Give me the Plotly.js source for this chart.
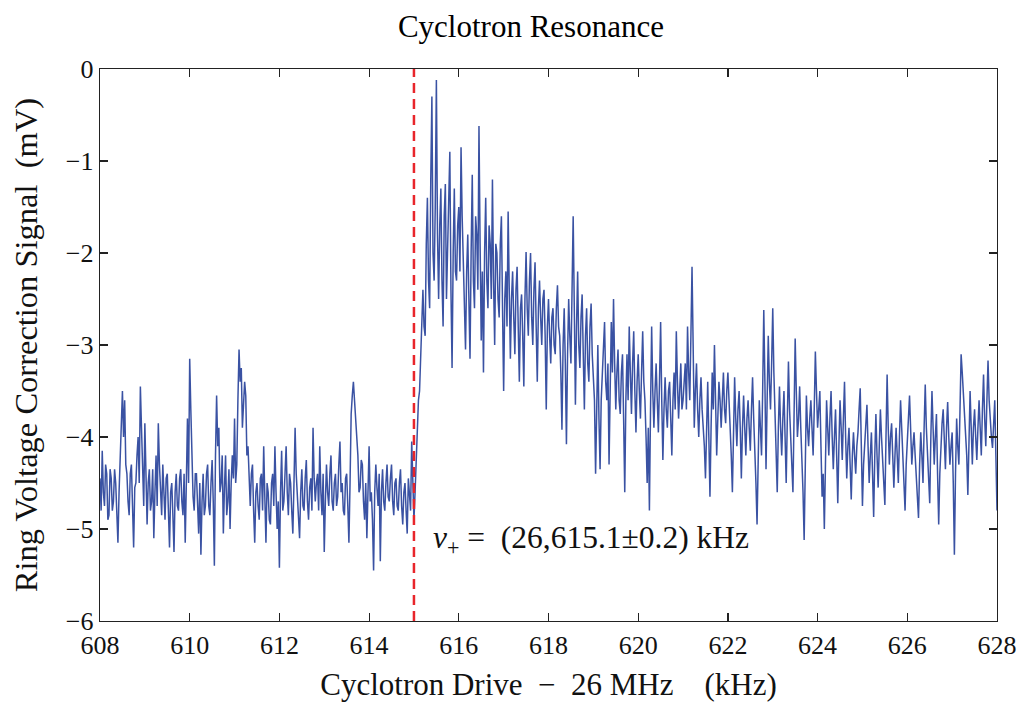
<!DOCTYPE html>
<html>
<head>
<meta charset="utf-8">
<script src="https://cdn.plot.ly/plotly-3.0.1.min.js"></script>
<style>html,body{margin:0;padding:0;background:#fff;}#chart{width:1021px;height:704px;}</style>
</head>
<body>
<div id="chart"></div>
<script>
// Start of each 1 kHz block (kHz) and sample offsets within the block
const blockStartKHz = [608,609,610,611,612,613,614,615,616,617,618,619,620,621,622,623,624,625,626,627];
const sampleOffsetKHz = [0,0.05,0.1,0.15,0.2,0.25,0.3,0.35,0.4,0.45,0.5,0.55,0.6,0.65,0.7,0.75,0.8,0.85,0.9,0.95];
const midOffsetKHz = [0.025,0.075,0.125,0.175,0.225,0.275,0.325,0.375,0.425,0.475,0.525,0.575,0.625,0.675,0.725,0.775,0.825,0.875,0.925,0.975];

// Ring voltage correction signal (mV): samples at the block offsets
const sig608 = [-4.45,-4.15,-4.75,-4.4,-4.85,-4.45,-4.7,-4.5,-5.15,-4.3,-3.5,-3.6,-4.4,-4.85,-4.3,-5.2,-4.5,-4.0,-3.45,-4.3];
const sig609 = [-3.85,-4.95,-4.35,-4.7,-5.1,-4.2,-3.85,-4.6,-4.3,-4.9,-4.4,-5.2,-4.5,-5.25,-4.4,-4.8,-4.35,-4.85,-5.15,-3.8];
const sig610 = [-3.15,-4.3,-4.8,-4.4,-5.05,-5.28,-4.4,-4.75,-4.3,-4.85,-4.25,-5.4,-3.55,-3.9,-4.5,-5.05,-4.2,-4.7,-5.0,-4.2];
const sig611 = [-3.8,-4.3,-3.05,-3.25,-3.7,-3.55,-4.1,-4.75,-4.3,-5.15,-4.5,-4.9,-4.4,-4.1,-5.15,-4.6,-4.95,-4.4,-4.1,-5.0];
const sig612 = [-5.42,-4.15,-4.7,-4.1,-4.85,-4.5,-5.05,-3.9,-4.6,-5.1,-4.35,-4.8,-4.25,-4.9,-4.45,-3.9,-4.7,-4.4,-4.1,-4.85];
const sig613 = [-5.25,-4.3,-4.75,-4.2,-4.8,-4.4,-4.65,-4.05,-4.5,-4.85,-4.4,-5.15,-3.75,-3.4,-3.8,-4.2,-4.55,-4.3,-4.9,-5.1];
const sig614 = [-4.1,-4.6,-5.45,-4.3,-4.75,-5.35,-4.35,-4.8,-4.3,-4.7,-4.3,-4.85,-4.45,-4.8,-4.35,-4.95,-4.5,-5.05,-4.6,-4.05];
const sig615 = [-4.9,-4.2,-3.6,-3.2,-2.4,-2.9,-1.4,-2.6,-0.3,-2.3,-0.12,-2.5,-1.3,-2.8,-1.25,-2.0,-0.9,-3.25,-1.3,-2.3];
const sig616 = [-1.5,-0.85,-2.0,-3.05,-1.8,-3.15,-1.15,-2.6,-1.8,-0.62,-2.95,-3.3,-1.4,-2.6,-1.9,-1.2,-3.0,-2.0,-2.7,-1.6];
const sig617 = [-3.5,-2.2,-1.55,-3.15,-2.2,-3.1,-2.15,-3.4,-2.45,-3.45,-1.99,-2.9,-2.0,-3.0,-2.1,-3.4,-2.3,-3.0,-2.4,-3.7];
const sig618 = [-2.5,-3.2,-2.6,-3.1,-2.35,-2.9,-3.92,-2.6,-4.08,-2.5,-3.2,-1.6,-3.65,-2.2,-3.25,-2.45,-3.7,-2.6,-3.4,-2.55];
const sig619 = [-3.3,-4.4,-3.0,-4.35,-3.3,-2.75,-3.6,-4.3,-2.75,-2.5,-3.7,-3.05,-3.75,-3.1,-4.6,-3.1,-2.8,-3.75,-2.85,-3.95];
const sig620 = [-3.1,-3.8,-2.85,-3.6,-4.5,-4.8,-2.8,-3.9,-3.2,-3.95,-2.75,-4.25,-3.35,-3.9,-3.4,-4.2,-3.3,-2.85,-3.8,-3.2];
const sig621 = [-3.6,-3.2,-2.8,-3.6,-2.15,-3.9,-3.2,-4.0,-3.35,-3.9,-4.45,-3.4,-4.65,-3.3,-3.0,-4.2,-3.4,-3.9,-3.3,-3.85];
const sig622 = [-3.3,-3.85,-4.6,-3.35,-4.1,-3.5,-4.45,-3.55,-4.2,-3.6,-4.15,-3.35,-4.1,-4.95,-3.6,-4.2,-2.62,-4.35,-2.9,-3.7];
const sig623 = [-2.6,-3.75,-4.6,-3.45,-4.2,-3.5,-4.5,-3.18,-4.1,-4.6,-2.93,-4.0,-3.45,-4.2,-5.12,-3.55,-4.1,-3.6,-4.2,-3.07];
const sig624 = [-3.9,-3.5,-4.65,-5.0,-3.6,-4.2,-3.5,-4.35,-3.7,-4.72,-3.6,-4.25,-3.4,-4.45,-3.9,-4.68,-3.95,-4.4,-3.95,-3.47];
const sig625 = [-4.75,-4.1,-3.65,-4.5,-3.95,-4.87,-3.75,-4.55,-3.7,-4.3,-4.74,-3.32,-4.3,-3.85,-4.55,-3.9,-4.5,-3.6,-4.2,-4.8];
const sig626 = [-3.95,-3.55,-4.3,-3.95,-4.4,-4.88,-3.95,-4.5,-3.43,-4.2,-4.72,-3.5,-4.3,-3.75,-4.95,-4.0,-3.7,-4.35,-3.62,-4.3];
const sig627 = [-3.95,-5.28,-3.8,-4.3,-3.1,-3.5,-3.9,-4.63,-3.5,-4.3,-3.7,-4.25,-3.6,-4.2,-3.32,-4.1,-3.17,-3.9,-4.12,-3.6];

// Ring voltage correction signal (mV): samples at the mid offsets
const mid608 = [-4.8,-4.6,-4.3,-4.9,-4.35,-4.8,-4.35,-4.85,-4.6,-3.9,-4.0,-4.3,-4.7,-4.4,-4.75,-4.55,-4.2,-4.5,-3.9,-4.75];
const mid609 = [-4.4,-4.5,-4.8,-4.35,-4.6,-4.75,-4.3,-4.85,-4.7,-4.45,-4.8,-4.6,-4.85,-4.6,-4.75,-4.45,-4.7,-4.4,-4.5,-4.5];
const mid610 = [-3.7,-4.65,-4.4,-4.8,-4.5,-4.7,-4.85,-4.4,-4.75,-4.5,-4.7,-4.2,-4.1,-4.6,-4.2,-4.55,-4.85,-4.35,-4.5,-4.45];
const mid611 = [-4.5,-3.6,-3.4,-3.9,-3.4,-4.2,-4.5,-4.4,-4.8,-4.6,-4.75,-4.45,-4.8,-4.65,-4.5,-4.9,-4.5,-4.75,-4.6,-4.7];
const mid612 = [-4.6,-4.8,-4.4,-4.6,-4.4,-4.8,-4.5,-4.4,-4.9,-4.6,-4.75,-4.45,-4.7,-4.55,-4.8,-4.45,-4.5,-4.8,-4.6,-4.4];
const mid613 = [-4.7,-4.6,-4.4,-4.7,-4.5,-4.75,-4.3,-4.6,-4.8,-4.45,-4.75,-4.5,-3.55,-3.6,-4.0,-4.6,-4.25,-4.7,-4.5,-4.6];
const mid614 = [-4.7,-4.9,-4.6,-4.55,-4.4,-4.6,-4.7,-4.5,-4.65,-4.45,-4.7,-4.5,-4.75,-4.5,-4.75,-4.6,-4.8,-4.45,-4.8,-4.5];
const mid615 = [-4.6,-3.8,-3.5,-2.7,-2.8,-1.9,-2.3,-1.2,-2.0,-1.5,-1.8,-1.7,-2.3,-1.6,-2.5,-1.5,-2.4,-2.0,-2.2,-1.7];
const mid616 = [-2.2,-1.6,-2.6,-2.2,-2.5,-2.0,-2.3,-1.6,-2.4,-1.9,-2.2,-2.0,-2.3,-1.7,-2.5,-2.3,-1.9,-2.5,-1.9,-2.6];
const mid617 = [-2.5,-2.8,-2.4,-2.5,-2.7,-2.4,-2.8,-2.6,-2.9,-2.5,-2.6,-2.3,-2.7,-2.4,-2.8,-2.6,-2.7,-2.5,-2.9,-2.8];
const mid618 = [-2.9,-2.7,-3.0,-2.6,-2.8,-3.3,-3.0,-3.2,-3.1,-2.9,-2.4,-2.6,-2.8,-3.0,-2.7,-3.1,-2.9,-3.2,-2.8,-3.1];
const mid619 = [-3.6,-3.5,-3.8,-3.6,-3.1,-3.4,-3.2,-3.5,-3.3,-3.2,-3.3,-3.6,-3.3,-3.8,-3.6,-3.6,-3.3,-3.2,-3.5,-3.4];
const mid620 = [-3.5,-3.3,-3.4,-4.0,-3.9,-3.7,-3.5,-3.5,-3.6,-3.4,-3.6,-3.7,-3.7,-3.5,-3.8,-3.6,-3.7,-3.4,-3.5,-3.7];
const mid621 = [-3.4,-3.7,-3.3,-2.9,-3.0,-3.5,-3.7,-3.6,-3.7,-4.1,-3.8,-4.0,-3.9,-3.7,-3.6,-3.8,-3.6,-3.6,-3.7,-3.5];
const mid622 = [-3.6,-4.2,-3.9,-3.8,-3.7,-3.9,-3.9,-3.9,-3.8,-3.9,-3.7,-3.8,-4.5,-4.2,-3.9,-3.5,-3.4,-3.6,-3.4,-3.2];
const mid623 = [-3.3,-4.1,-3.9,-3.9,-3.8,-4.0,-3.8,-3.7,-4.3,-3.8,-3.5,-3.8,-3.9,-4.6,-4.3,-3.9,-3.8,-3.9,-3.7,-3.5];
const mid624 = [-3.7,-4.1,-4.4,-4.3,-3.9,-3.8,-4.0,-4.0,-4.2,-4.1,-3.9,-3.8,-4.0,-4.1,-4.3,-4.2,-4.2,-4.1,-3.7,-4.1];
const mid625 = [-4.3,-3.9,-4.1,-4.2,-4.4,-4.2,-4.2,-4.1,-4.0,-4.5,-4.0,-3.9,-4.0,-4.2,-4.2,-4.2,-4.0,-3.9,-4.5,-4.3];
const mid626 = [-3.8,-4.0,-4.1,-4.2,-4.6,-4.3,-4.2,-3.9,-3.9,-4.5,-4.0,-3.9,-4.0,-4.4,-4.4,-3.85,-4.0,-3.9,-4.0,-4.1];
const mid627 = [-4.5,-4.4,-4.1,-3.7,-3.3,-3.8,-4.2,-4.0,-3.9,-3.9,-4.0,-3.9,-3.9,-3.7,-3.8,-3.6,-3.6,-4.0,-3.8,-4.2];

const finalKHz = 628;
const finalSig = -4.8;

const resonanceKHz = 615.0;
const xTicks = [608,610,612,614,616,618,620,622,624,626,628];
const yTicks = [0,-1,-2,-3,-4,-5,-6];
const annotationText = '<i>v</i><sub>+</sub> =  (26,615.1±0.2) kHz';
const annotationPos = {x: 615.38, y: -5.12};

const blocks = [sig608,sig609,sig610,sig611,sig612,sig613,sig614,sig615,sig616,sig617,sig618,sig619,sig620,sig621,sig622,sig623,sig624,sig625,sig626,sig627];
const midBlocks = [mid608,mid609,mid610,mid611,mid612,mid613,mid614,mid615,mid616,mid617,mid618,mid619,mid620,mid621,mid622,mid623,mid624,mid625,mid626,mid627];
const xs = [], ys = [];
blocks.forEach((blk, b) => {
  blk.forEach((v, i) => {
    xs.push(+(blockStartKHz[b] + sampleOffsetKHz[i]).toFixed(3)); ys.push(v);
    xs.push(+(blockStartKHz[b] + midOffsetKHz[i]).toFixed(3)); ys.push(midBlocks[b][i]);
  });
});
xs.push(finalKHz); ys.push(finalSig);

const serif = 'Liberation Serif, Times New Roman, serif';

const trace = {
  x: xs, y: ys, type: 'scatter', mode: 'lines',
  line: {color: '#3a52a3', width: 1.5},
  hoverinfo: 'x+y'
};

const layout = {
  width: 1021, height: 704,
  margin: {l: 100, r: 24, t: 69, b: 83},
  paper_bgcolor: '#fff', plot_bgcolor: '#fff',
  showlegend: false,
  title: {text: 'Cyclotron Resonance', x: 0.52, xanchor: 'center', y: 0.963, yanchor: 'middle',
          font: {family: serif, size: 31, color: '#000'}},
  xaxis: {
    range: [608, 628], tickvals: xTicks, ticktext: xTicks.map(String),
    ticks: 'inside', ticklen: 8, tickwidth: 1.2, tickcolor: '#222',
    showline: true, linecolor: '#222', linewidth: 1.3, mirror: 'ticks',
    showgrid: false, zeroline: false,
    tickfont: {family: serif, size: 26, color: '#111'},
    title: {text: 'Cyclotron Drive  \u2212  26 MHz    (kHz)', font: {family: serif, size: 31, color: '#111'}, standoff: 14}
  },
  yaxis: {
    range: [-6, 0], tickvals: yTicks,
    ticks: 'inside', ticklen: 8, tickwidth: 1.2, tickcolor: '#222',
    showline: true, linecolor: '#222', linewidth: 1.3, mirror: 'ticks',
    showgrid: false, zeroline: false,
    tickfont: {family: serif, size: 26, color: '#111'},
    title: {text: 'Ring Voltage Correction Signal  (mV)', font: {family: serif, size: 32.5, color: '#111'}, standoff: 18}
  },
  shapes: [{
    type: 'line', xref: 'x', yref: 'y', x0: resonanceKHz, x1: resonanceKHz, y0: -6, y1: 0,
    line: {color: '#e8252b', width: 2.5, dash: '10px,6px'}
  }],
  annotations: [{
    x: annotationPos.x, y: annotationPos.y, xref: 'x', yref: 'y',
    xanchor: 'left', yanchor: 'middle', showarrow: false,
    text: annotationText, font: {family: serif, size: 31.5, color: '#111'}
  }]
};

Plotly.newPlot('chart', [trace], layout, {displayModeBar: false, staticPlot: true});
</script>
</body>
</html>
